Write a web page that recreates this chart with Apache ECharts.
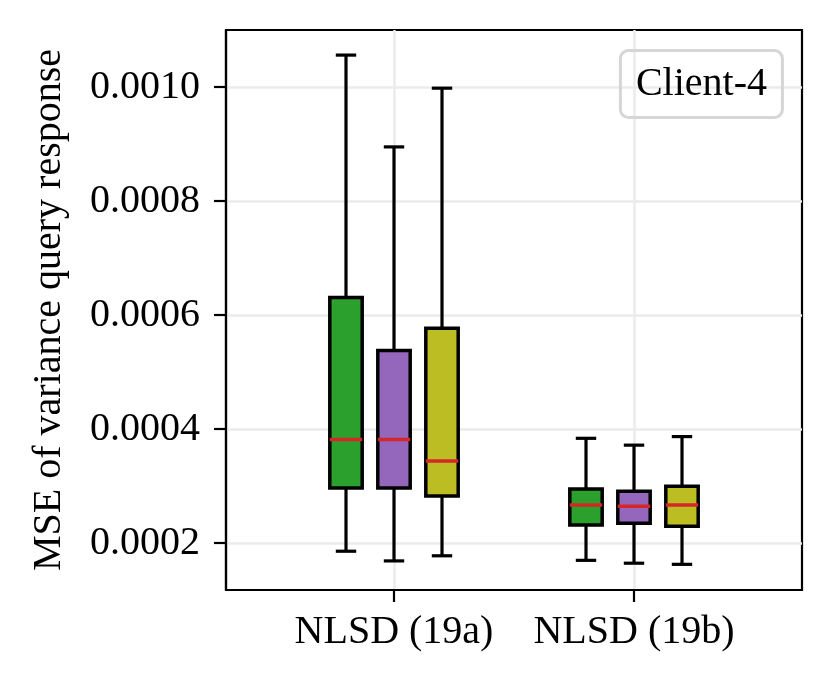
<!DOCTYPE html>
<html>
<head>
<meta charset="utf-8">
<script src="https://cdn.jsdelivr.net/npm/echarts@6/dist/echarts.min.js"></script>
<style>
  html, body { margin: 0; padding: 0; background: #fff; }
  #chart { width: 833px; height: 687px; }
</style>
</head>
<body>
<div id="chart"></div>
<script>
// 类别与刻度
const categories = ['NLSD (19a)', 'NLSD (19b)'];
const yTicks = [0.0002, 0.0004, 0.0006, 0.0008, 0.0010];

// 每个类别的 [下须, Q1, 中位数, Q3, 上须]
const greenStats = [
    [0.000186, 0.000297, 0.000382, 0.000631, 0.001056],
    [0.000170, 0.000232, 0.000267, 0.000295, 0.000384]
];
const purpleStats = [
    [0.000169, 0.000297, 0.000382, 0.000538, 0.000895],
    [0.000165, 0.000235, 0.000265, 0.000291, 0.000372]
];
const oliveStats = [
    [0.000178, 0.000283, 0.000344, 0.000577, 0.000998],
    [0.000163, 0.000230, 0.000267, 0.000300, 0.000387]
];

const FONT = "'Liberation Serif', 'DejaVu Serif', serif";
const BOX_W = 0.135;   // 箱体宽度 (x轴单位)
const CAP_W = 0.085;   // 须端横线宽度

function boxSeries(name, stats, offset, color) {
    return {
        name: name,
        type: 'custom',
        data: stats.map(function (s, i) { return [i].concat(s); }),
        encode: { x: 0, y: [1, 2, 3, 4, 5] },
        silent: true,
        renderItem: function (params, api) {
            const x = api.value(0) + 1 + offset;
            const pLow = api.coord([x, api.value(1)]);
            const pQ1 = api.coord([x, api.value(2)]);
            const pMed = api.coord([x, api.value(3)]);
            const pQ3 = api.coord([x, api.value(4)]);
            const pHigh = api.coord([x, api.value(5)]);
            const hw = api.size([BOX_W, 0])[0] / 2;
            const cw = api.size([CAP_W, 0])[0] / 2;
            const cx = pMed[0];
            const lineStyle = { stroke: '#000', lineWidth: 3.2 };
            return {
                type: 'group',
                children: [
                    { type: 'line', shape: { x1: cx, y1: pLow[1], x2: cx, y2: pQ1[1] }, style: lineStyle },
                    { type: 'line', shape: { x1: cx, y1: pQ3[1], x2: cx, y2: pHigh[1] }, style: lineStyle },
                    { type: 'line', shape: { x1: cx - cw, y1: pLow[1], x2: cx + cw, y2: pLow[1] }, style: lineStyle },
                    { type: 'line', shape: { x1: cx - cw, y1: pHigh[1], x2: cx + cw, y2: pHigh[1] }, style: lineStyle },
                    {
                        type: 'rect',
                        shape: { x: cx - hw, y: pQ3[1], width: hw * 2, height: pQ1[1] - pQ3[1] },
                        style: { fill: color, stroke: '#000', lineWidth: 3.5 }
                    },
                    { type: 'line', shape: { x1: cx - hw, y1: pMed[1], x2: cx + hw, y2: pMed[1] }, style: { stroke: '#d62728', lineWidth: 3.5 } }
                ]
            };
        }
    };
}

const chart = echarts.init(document.getElementById('chart'));

const option = {
    backgroundColor: '#fff',
    animation: false,
    title: {
        text: 'Client-4',
        right: 50,
        top: 50,
        padding: [14, 16, 14, 16],
        borderColor: '#d6d6d6',
        borderWidth: 3,
        borderRadius: 8,
        textStyle: { fontFamily: FONT, fontSize: 40, fontWeight: 'normal', color: '#000' }
    },
    grid: {
        left: 226, right: 31, top: 30, bottom: 97,
        show: true,
        borderColor: '#000',
        borderWidth: 2.2,
        backgroundColor: 'transparent'
    },
    xAxis: {
        type: 'value',
        min: 0.3,
        max: 2.7,
        axisLine: { show: true, lineStyle: { color: '#000', width: 2.2 } },
        axisTick: { show: true, customValues: [1, 2], length: 12, lineStyle: { color: '#000', width: 2.2 } },
        axisLabel: {
            customValues: [1, 2],
            margin: 22,
            formatter: function (v) { return categories[Math.round(v) - 1]; },
            fontFamily: FONT, fontSize: 40, color: '#000'
        },
        splitLine: { show: true, lineStyle: { color: '#ebebeb', width: 2.5 } }
    },
    yAxis: {
        type: 'value',
        min: 0.000118,
        max: 0.0011,
        name: 'MSE of variance query response',
        nameLocation: 'middle',
        nameGap: 157,
        nameTextStyle: { fontFamily: FONT, fontSize: 40, color: '#000' },
        axisLine: { show: true, lineStyle: { color: '#000', width: 2.2 } },
        axisTick: { show: true, customValues: yTicks, length: 12, lineStyle: { color: '#000', width: 2.2 } },
        axisLabel: {
            customValues: yTicks,
            margin: 26,
            formatter: function (v) { return v.toFixed(4); },
            fontFamily: FONT, fontSize: 40, color: '#000'
        },
        splitLine: { show: true, lineStyle: { color: '#ebebeb', width: 2.5 } }
    },
    series: [
        boxSeries('A', greenStats, -0.2, '#2ca02c'),
        boxSeries('B', purpleStats, 0, '#9467bd'),
        boxSeries('C', oliveStats, 0.2, '#bcbd22')
    ]
};

chart.setOption(option);
</script>
</body>
</html>
